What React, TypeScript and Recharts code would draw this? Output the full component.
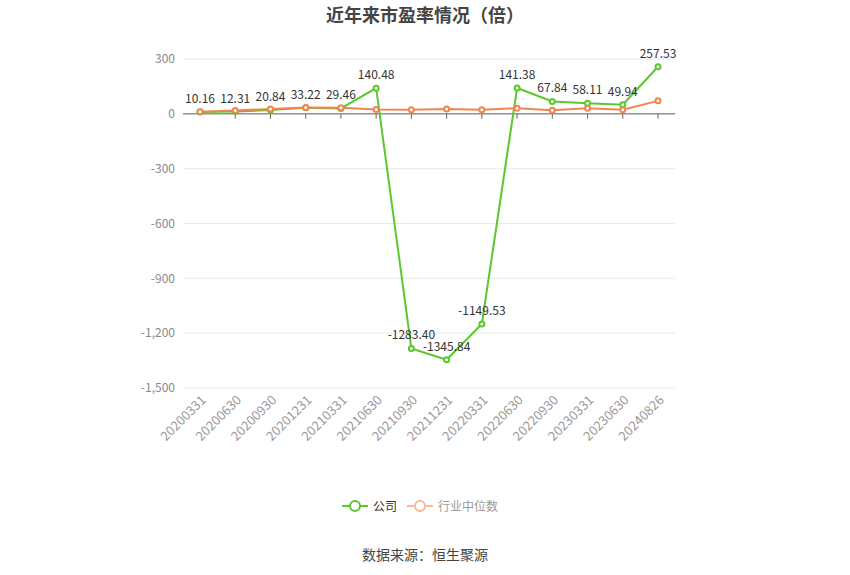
import React from "react";
import {
  LineChart,
  Line,
  XAxis,
  YAxis,
  CartesianGrid,
  LabelList,
  ReferenceLine
} from "recharts";

const dates = [
  "20200331", "20200630", "20200930", "20201231", "20210331", "20210630", "20210930",
  "20211231", "20220331", "20220630", "20220930", "20230331", "20230630", "20240826"
];
const companyPe = [
  10.16, 12.31, 20.84, 33.22, 29.46, 140.48, -1283.4,
  -1345.84, -1149.53, 141.38, 67.84, 58.11, 49.94, 257.53
];
const industryPe = [12, 18, 27, 35, 33, 24, 22, 27, 22, 31, 20, 31, 22, 71];
const yTicks = [-1500, -1200, -900, -600, -300, 0, 300];

const GREEN = "#5cc72f";
const ORANGE = "#f0854f";
const FONT = "'Microsoft YaHei', 'Noto Sans CJK SC', sans-serif";

const data = dates.map((d, i) => ({
  date: d,
  company: companyPe[i],
  industry: industryPe[i]
}));

function AngledTick({ x, y, payload }: any) {
  return (
    <g transform={`translate(${x + 4},${y + 2})`}>
      <text
        textAnchor="end"
        transform="rotate(-45)"
        fontSize={13}
        fill="#999"
        fontFamily={FONT}
        dy={4}
      >
        {payload.value}
      </text>
    </g>
  );
}

function LegendItem({ color, label, textColor }: { color: string; label: string; textColor: string }) {
  return (
    <span style={{ display: "inline-flex", alignItems: "center", marginRight: 10 }}>
      <svg width={26} height={14}>
        <line x1={0} y1={7} x2={26} y2={7} stroke={color} strokeWidth={2} />
        <circle cx={13} cy={7} r={5} fill="#fff" stroke={color} strokeWidth={2} />
      </svg>
      <span style={{ marginLeft: 5, color: textColor }}>{label}</span>
    </span>
  );
}

export default function App() {
  return (
    <div style={{ position: "absolute", left: 0, top: 0, width: 850, height: 575, background: "#fff", fontFamily: FONT }}>
      <div
        style={{
          position: "absolute",
          top: 1,
          width: 850,
          textAlign: "center",
          fontSize: 18,
          fontWeight: "bold",
          color: "#444"
        }}
      >
        近年来市盈率情况（倍）
      </div>
      <LineChart
        width={850}
        height={575}
        data={data}
        margin={{ top: 59, right: 175, left: 0, bottom: 127 }}
      >
        <CartesianGrid vertical={false} stroke="#e6e9f0" />
        <XAxis
          dataKey="date"
          interval={0}
          height={60}
          padding={{ left: 17, right: 17 }}
          tick={<AngledTick />}
          axisLine={false}
          tickLine={false}
        />
        <YAxis
          width={183}
          domain={[-1500, 300]}
          ticks={yTicks}
          axisLine={false}
          tickLine={false}
          tick={{ fontSize: 12, fill: "#888", fontFamily: FONT }}
          tickFormatter={(v: number) => v.toLocaleString("en-US")}
        />
        <ReferenceLine y={0} stroke="#666" />
        {dates.map((d) => (
          <ReferenceLine
            key={d}
            segment={[{ x: d, y: 0 }, { x: d, y: -27 }]}
            stroke="#666"
          />
        ))}
        <Line
          dataKey="company"
          stroke={GREEN}
          strokeWidth={2}
          dot={{ r: 2.5, fill: "#fff", stroke: GREEN, strokeWidth: 2 }}
          isAnimationActive={false}
        >
          <LabelList
            dataKey="company"
            position="top"
            offset={9}
            fontSize={12}
            fill="#333"
            fontFamily={FONT}
            formatter={(v: number) => v.toFixed(2)}
          />
        </Line>
        <Line
          dataKey="industry"
          stroke={ORANGE}
          strokeWidth={2}
          dot={{ r: 2.5, fill: "#fff", stroke: ORANGE, strokeWidth: 2 }}
          isAnimationActive={false}
        />
      </LineChart>
      <div
        style={{
          position: "absolute",
          top: 497,
          width: 850,
          fontSize: 12,
          display: "flex",
          justifyContent: "center"
        }}
      >
        <LegendItem color={GREEN} label="公司" textColor="#333" />
        <LegendItem color="#f8b89c" label="行业中位数" textColor="#999" />
      </div>
      <div
        style={{
          position: "absolute",
          top: 544,
          width: 850,
          textAlign: "center",
          fontSize: 14,
          color: "#444"
        }}
      >
        数据来源：恒生聚源
      </div>
    </div>
  );
}
